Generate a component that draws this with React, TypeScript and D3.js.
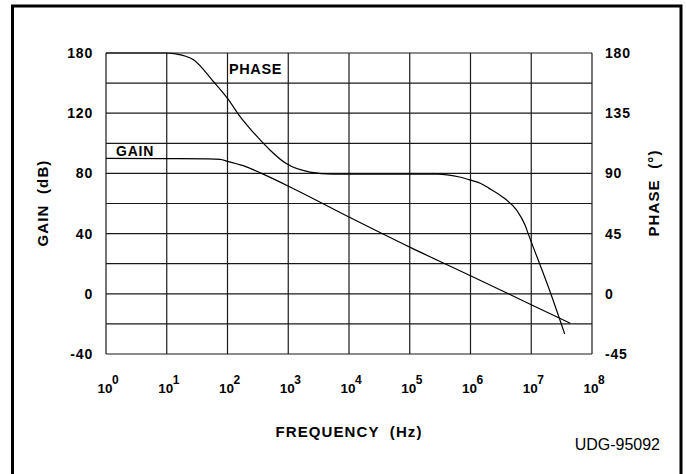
import * as d3 from 'd3';

// frequency decades shown on the x axis (Hz)
const decades = [1, 1e1, 1e2, 1e3, 1e4, 1e5, 1e6, 1e7, 1e8];
const decadeExponents = ['0', '1', '2', '3', '4', '5', '6', '7', '8'];

// left axis: gain (dB) — printed labels as in the original sheet
const gainTicks = [-40, 0, 40, 80, 120, 160];
const gainTickLabels = ['-40', '0', '40', '80', '120', '180'];

// right axis: phase (deg)
const phaseTicks = [-45, 0, 45, 90, 135, 180];

// gain curve
const gainFreq = [1, 10, 48, 76, 100, 200, 363, 1200, 1e4, 1e5, 1e6, 4.2e6, 1e7, 4.4e7];
const gainDb = [90, 89.8, 89.6, 89.3, 88, 84.5, 80, 70, 51, 31, 12, 0, -7.3, -19.6];

// phase curve
const phaseFreq = [
  1, 10, 14, 27.5, 59, 100, 158, 250, 363, 500, 912, 2290, 5370, 3.2e4, 2.9e5,
  6.3e5, 1e6, 1.45e6, 2e6, 3.7e6, 5.75e6, 7.9e6, 8.9e6, 2.1e7, 3.55e7,
];
const phaseDeg = [
  180, 180, 179.3, 175, 158.5, 146, 133, 122, 114, 107.5, 97.5, 91, 89.5, 89.5, 89.5,
  87.5, 85, 82.6, 79, 71, 62.6, 51.4, 45, 0, -30,
];

const W = 686;
const H = 474;
const left = 106;
const right = 592;
const top = 53;
const bottom = 354;
const font = '"Liberation Sans", Arial, Helvetica, sans-serif';

export default function App() {
  const x = d3.scaleLog().domain([1, 1e8]).range([left, right]);
  const yGain = d3.scaleLinear().domain([-40, 160]).range([bottom, top]);
  const yPhase = d3.scaleLinear().domain([-45, 180]).range([bottom, top]);

  const gainLine = d3
    .line<number>()
    .x((_, i) => x(gainFreq[i]))
    .y((d) => yGain(d))
    .curve(d3.curveMonotoneX);

  const phaseLine = d3
    .line<number>()
    .x((_, i) => x(phaseFreq[i]))
    .y((d) => yPhase(d))
    .curve(d3.curveMonotoneX);

  const rows = yGain.ticks(10); // -40 .. 160 every 20 dB

  return (
    <svg
      width={W}
      height={H}
      style={{ position: 'absolute', left: 0, top: 0, background: '#fff' }}
      fontFamily={font}
    >
      {/* outer frame, open at the bottom */}
      <path d={`M12.5,${H + 5} V6 H681 V${H + 5}`} fill="none" stroke="#000" strokeWidth={3} />

      {/* grid */}
      <g stroke="#1a1a1a" strokeWidth={1.2}>
        {rows.map((r) => (
          <line key={'h' + r} x1={left} x2={right} y1={yGain(r)} y2={yGain(r)} />
        ))}
        {decades.map((d) => (
          <line key={'v' + d} x1={x(d)} x2={x(d)} y1={top} y2={bottom} />
        ))}
      </g>

      {/* curves */}
      <path d={gainLine(gainDb) ?? ''} fill="none" stroke="#000" strokeWidth={1.2} />
      <path d={phaseLine(phaseDeg) ?? ''} fill="none" stroke="#000" strokeWidth={1.2} />

      {/* curve labels */}
      <text x={229} y={74} fontSize={14.5} fontWeight="bold" letterSpacing={0.6}>
        PHASE
      </text>
      <text x={116} y={156} fontSize={14} fontWeight="bold" letterSpacing={0.8}>
        GAIN
      </text>

      {/* left ticks */}
      {gainTicks.map((t, i) => (
        <text
          key={'g' + t}
          x={93}
          y={yGain(t)}
          dy="0.36em"
          textAnchor="end"
          fontSize={14}
          fontWeight="bold"
          letterSpacing={0.8}
        >
          {gainTickLabels[i]}
        </text>
      ))}

      {/* right ticks */}
      {phaseTicks.map((t) => (
        <text
          key={'p' + t}
          x={605}
          y={yPhase(t)}
          dy="0.36em"
          textAnchor="start"
          fontSize={14}
          fontWeight="bold"
          letterSpacing={0.8}
        >
          {t}
        </text>
      ))}

      {/* bottom ticks: 10 with exponent */}
      {decades.map((d, i) => (
        <g key={'x' + d}>
          <text x={x(d) - 1} y={393} textAnchor="middle" fontSize={13.5} fontWeight="bold">
            10
          </text>
          <text x={x(d) + 6} y={383.5} textAnchor="start" fontSize={12} fontWeight="bold">
            {decadeExponents[i]}
          </text>
        </g>
      ))}

      {/* axis titles */}
      <text
        x={349}
        y={437}
        textAnchor="middle"
        fontSize={15}
        fontWeight="bold"
        letterSpacing={1.1}
        style={{ whiteSpace: 'pre' }}
      >
        {'FREQUENCY  (Hz)'}
      </text>
      <text
        transform="translate(48,203) rotate(-90)"
        textAnchor="middle"
        fontSize={15}
        fontWeight="bold"
        letterSpacing={1.1}
        style={{ whiteSpace: 'pre' }}
      >
        {'GAIN  (dB)'}
      </text>
      <text
        transform="translate(659,193) rotate(-90)"
        textAnchor="middle"
        fontSize={15}
        fontWeight="bold"
        letterSpacing={1.1}
        style={{ whiteSpace: 'pre' }}
      >
        {'PHASE  (°)'}
      </text>

      <text x={660} y={450} textAnchor="end" fontSize={16}>
        UDG-95092
      </text>
    </svg>
  );
}
